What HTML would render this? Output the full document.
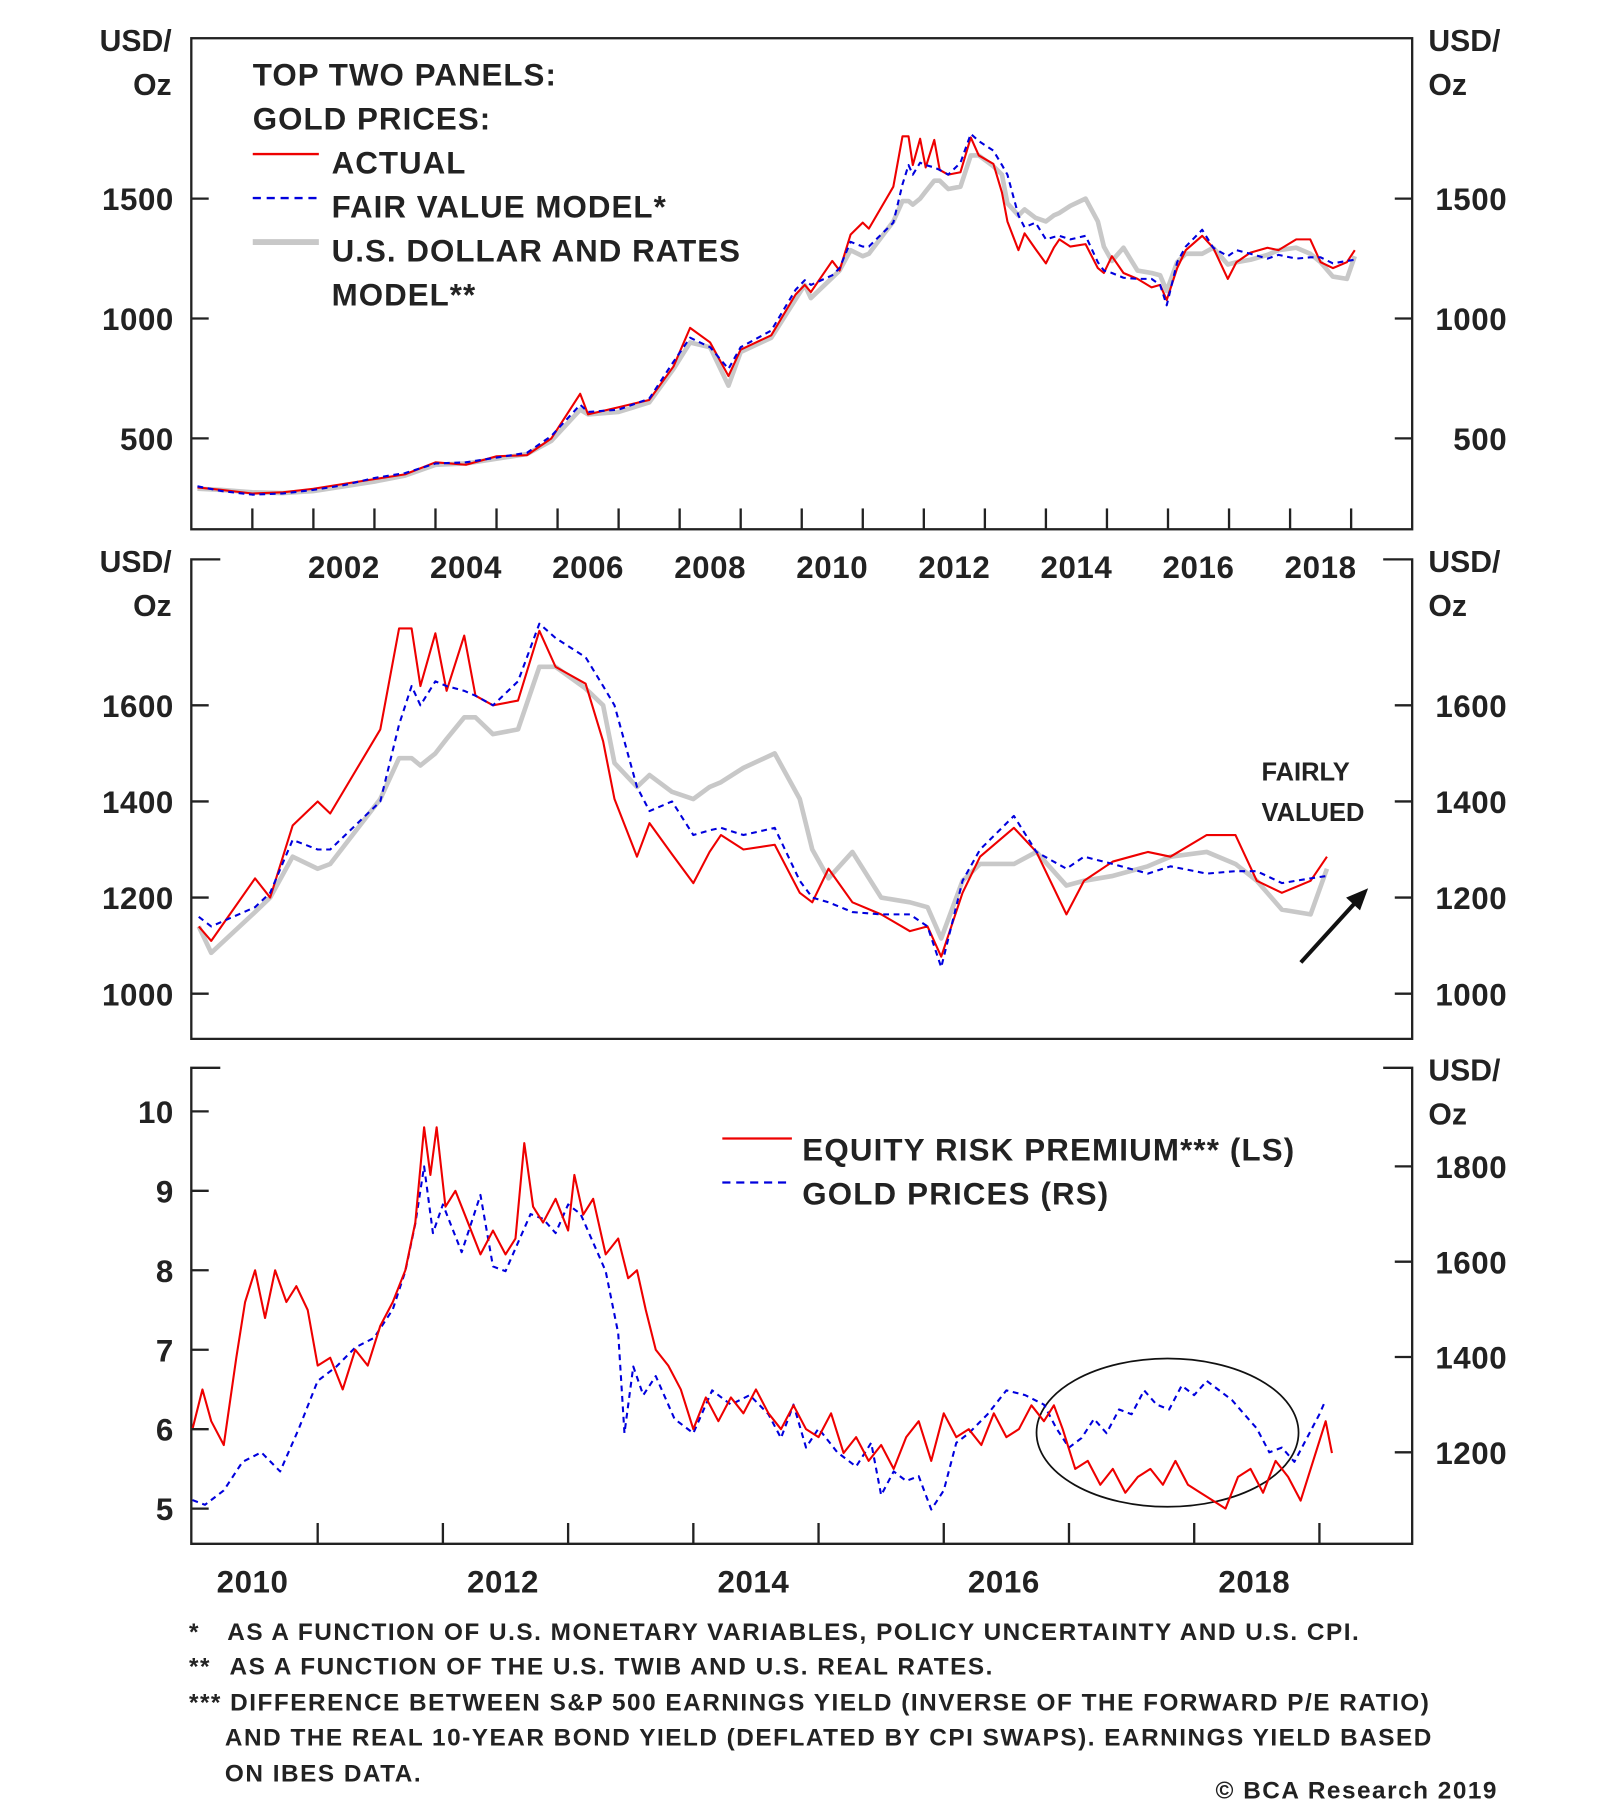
<!DOCTYPE html>
<html><head><meta charset="utf-8"><style>
html,body{margin:0;padding:0;background:#fff;}
svg{display:block;}
text{font-family:"Liberation Sans",Arial,sans-serif;font-weight:bold;fill:#222;}
.leg text{letter-spacing:0.9px;}
.leg3 text{letter-spacing:1px;}
.foot text{letter-spacing:1.3px;}
</style></head><body>
<svg id="chart" width="1600" height="1816" viewBox="0 0 1380 1568" preserveAspectRatio="none" xmlns="http://www.w3.org/2000/svg">
<g id="static">
<rect x="165" y="33" width="1053" height="424" fill="none" stroke="#222" stroke-width="2"/>
<path d="M190 483 H165 V897 H1218 V483 H1193" fill="none" stroke="#222" stroke-width="2"/>
<path d="M190 922 H165 V1333 H1218 V922 H1193" fill="none" stroke="#222" stroke-width="2"/>
<text x="148" y="44" font-size="26" text-anchor="end">USD/</text>
<text x="148" y="82" font-size="26" text-anchor="end">Oz</text>
<text x="1232" y="44" font-size="26">USD/</text>
<text x="1232" y="82" font-size="26">Oz</text>
<text x="148" y="494" font-size="26" text-anchor="end">USD/</text>
<text x="148" y="532" font-size="26" text-anchor="end">Oz</text>
<text x="1232" y="494" font-size="26">USD/</text>
<text x="1232" y="532" font-size="26">Oz</text>
<text x="1232" y="933" font-size="26">USD/</text>
<text x="1232" y="971" font-size="26">Oz</text>
<g class="leg">
<text x="218" y="74" font-size="27">TOP TWO PANELS:</text>
<text x="218" y="112" font-size="27">GOLD PRICES:</text>
<line x1="218" y1="133" x2="275" y2="133" stroke="#e00" stroke-width="2"/>
<text x="286" y="150" font-size="27">ACTUAL</text>
<line x1="218" y1="171" x2="275" y2="171" stroke="#00d" stroke-width="2" stroke-dasharray="7,5"/>
<text x="286" y="188" font-size="27">FAIR VALUE MODEL*</text>
<line x1="218" y1="209" x2="275" y2="209" stroke="#c8c8c8" stroke-width="5"/>
<text x="286" y="226" font-size="27">U.S. DOLLAR AND RATES</text>
<text x="286" y="264" font-size="27">MODEL**</text>
</g>
<text x="1088" y="674" font-size="22">FAIRLY</text>
<text x="1088" y="709" font-size="22">VALUED</text>
<line x1="1122" y1="831" x2="1172" y2="776" stroke="#111" stroke-width="3.5"/>
<polygon points="1180,767 1161,775 1173,786" fill="#111"/>
<g class="leg3">
<line x1="623" y1="983" x2="683" y2="983" stroke="#e00" stroke-width="2"/>
<text x="692" y="1002" font-size="27">EQUITY RISK PREMIUM*** (LS)</text>
<line x1="623" y1="1021" x2="683" y2="1021" stroke="#00d" stroke-width="2" stroke-dasharray="7,5"/>
<text x="692" y="1040" font-size="27">GOLD PRICES (RS)</text>
</g>
<ellipse cx="1007" cy="1237" rx="113" ry="64" fill="none" stroke="#111" stroke-width="1.5"/>
<g class="foot" font-size="21">
<text x="163" y="1416">*</text><text x="196" y="1416" font-size="21">AS A FUNCTION OF U.S. MONETARY VARIABLES, POLICY UNCERTAINTY AND U.S. CPI.</text>
<text x="163" y="1446">**</text><text x="198" y="1446" font-size="21">AS A FUNCTION OF THE U.S. TWIB AND U.S. REAL RATES.</text>
<text x="163" y="1477" font-size="21">*** DIFFERENCE BETWEEN S&amp;P 500 EARNINGS YIELD (INVERSE OF THE FORWARD P/E RATIO)</text>
<text x="194" y="1507" font-size="21">AND THE REAL 10-YEAR BOND YIELD (DEFLATED BY CPI SWAPS). EARNINGS YIELD BASED</text>
<text x="194" y="1538" font-size="21">ON IBES DATA.</text>
<text x="1292" y="1553" font-size="21" text-anchor="end">© BCA Research 2019</text>
</g>
</g>
<g id="dyn"></g>
</svg>
<script>
// Gold prices (USD/oz)
const goldYears = [2000.1,2000.5,2001,2001.5,2002,2002.5,2003,2003.5,2004,2004.5,2005,2005.5,2005.9,2006.37,2006.5,2007,2007.5,2007.9,2008.17,2008.5,2008.8,2009,2009.5,2009.9,
2010.05,2010.15,2010.5,2010.62,2010.8,2011.0,2011.1,2011.5,2011.65,2011.75,2011.82,2011.94,2012.03,2012.17,2012.26,2012.4,2012.6,2012.77,2012.9,2013.14,2013.28,2013.37,2013.55,2013.65,2013.83,2014.0,2014.13,2014.22,2014.4,2014.65,2014.85,2014.95,2015.08,2015.27,2015.5,2015.73,2015.87,2015.98,2016.15,2016.29,2016.56,2016.74,2016.98,2017.12,2017.35,2017.63,2017.81,2018.1,2018.33,2018.5,2018.7,2018.93,2019.06];
const goldActual = [295,285,270,275,290,310,330,350,400,390,425,430,500,686,600,630,660,800,961,900,760,870,930,1100,
1140,1110,1240,1200,1350,1400,1375,1550,1760,1760,1640,1750,1630,1745,1620,1600,1610,1755,1680,1645,1525,1405,1285,1355,1290,1230,1295,1330,1300,1310,1210,1190,1260,1190,1165,1130,1140,1077,1210,1285,1345,1295,1165,1235,1275,1295,1285,1330,1330,1235,1210,1235,1285];
const goldFair = [300,280,265,270,285,305,335,355,395,400,420,440,510,640,610,620,665,820,920,880,790,880,950,1120,
1160,1140,1180,1210,1320,1300,1300,1400,1560,1640,1600,1650,1640,1630,1620,1600,1650,1770,1740,1700,1640,1600,1430,1380,1400,1330,1340,1345,1330,1345,1235,1200,1190,1170,1165,1165,1140,1055,1235,1300,1370,1295,1260,1285,1270,1250,1265,1250,1255,1255,1230,1240,1245];
const goldUsd = [290,285,275,272,280,300,320,345,390,395,415,435,490,620,600,610,650,790,900,880,720,860,920,1080,
1140,1085,1170,1200,1285,1260,1270,1405,1490,1490,1475,1500,1530,1575,1575,1540,1550,1680,1680,1635,1600,1480,1430,1455,1420,1405,1430,1440,1470,1500,1405,1300,1240,1295,1200,1190,1180,1115,1235,1270,1270,1295,1225,1235,1245,1265,1285,1295,1270,1235,1175,1165,1260];
// Equity risk premium (%) and gold, panel 3
const erpYears = [2010.0,2010.08,2010.15,2010.25,2010.35,2010.42,2010.5,2010.58,2010.66,2010.75,2010.83,2010.92,2011.0,2011.1,2011.2,2011.3,2011.4,2011.5,2011.6,2011.7,2011.78,2011.85,2011.9,2011.95,2012.02,2012.1,2012.2,2012.3,2012.4,2012.5,2012.58,2012.65,2012.72,2012.8,2012.9,2013.0,2013.05,2013.12,2013.2,2013.3,2013.4,2013.48,2013.55,2013.62,2013.7,2013.8,2013.9,2014.0,2014.1,2014.2,2014.3,2014.4,2014.5,2014.6,2014.7,2014.8,2014.9,2015.0,2015.1,2015.2,2015.3,2015.4,2015.5,2015.6,2015.7,2015.8,2015.9,2016.0,2016.1,2016.2,2016.3,2016.4,2016.5,2016.6,2016.7,2016.8,2016.88,2016.95,2017.05,2017.15,2017.25,2017.35,2017.45,2017.55,2017.65,2017.75,2017.85,2017.95,2018.05,2018.15,2018.25,2018.35,2018.45,2018.55,2018.65,2018.75,2018.85,2018.95,2019.05,2019.1];
const erpValues = [6.0,6.5,6.1,5.8,6.9,7.6,8.0,7.4,8.0,7.6,7.8,7.5,6.8,6.9,6.5,7.0,6.8,7.3,7.6,8.0,8.6,9.8,9.2,9.8,8.8,9.0,8.6,8.2,8.5,8.2,8.4,9.6,8.8,8.6,8.9,8.5,9.2,8.7,8.9,8.2,8.4,7.9,8.0,7.5,7.0,6.8,6.5,6.0,6.4,6.1,6.4,6.2,6.5,6.2,6.0,6.3,6.0,5.9,6.2,5.7,5.9,5.6,5.8,5.5,5.9,6.1,5.6,6.2,5.9,6.0,5.8,6.2,5.9,6.0,6.3,6.1,6.3,6.0,5.5,5.6,5.3,5.5,5.2,5.4,5.5,5.3,5.6,5.3,5.2,5.1,5.0,5.4,5.5,5.2,5.6,5.4,5.1,5.6,6.1,5.7];
const gold3Years = [2010.0,2010.1,2010.25,2010.4,2010.55,2010.7,2010.85,2011.0,2011.15,2011.3,2011.45,2011.6,2011.7,2011.78,2011.85,2011.92,2012.0,2012.15,2012.3,2012.4,2012.5,2012.6,2012.7,2012.8,2012.9,2013.0,2013.1,2013.2,2013.3,2013.4,2013.45,2013.52,2013.6,2013.7,2013.85,2014.0,2014.15,2014.3,2014.45,2014.6,2014.7,2014.8,2014.9,2015.0,2015.15,2015.3,2015.42,2015.5,2015.6,2015.7,2015.8,2015.9,2016.0,2016.1,2016.2,2016.35,2016.5,2016.65,2016.8,2016.9,2017.0,2017.1,2017.2,2017.3,2017.4,2017.5,2017.6,2017.7,2017.8,2017.9,2018.0,2018.1,2018.2,2018.3,2018.4,2018.5,2018.6,2018.7,2018.8,2018.9,2019.0,2019.05];
const gold3Values = [1100,1090,1120,1180,1200,1160,1250,1350,1380,1420,1440,1500,1580,1680,1800,1660,1720,1620,1740,1590,1580,1640,1700,1690,1660,1720,1700,1640,1580,1450,1240,1380,1320,1360,1270,1240,1330,1300,1320,1280,1230,1300,1210,1250,1200,1170,1220,1110,1160,1140,1150,1080,1120,1220,1240,1280,1330,1320,1300,1250,1210,1230,1270,1240,1290,1280,1330,1300,1290,1340,1320,1350,1330,1310,1280,1250,1200,1210,1180,1230,1280,1310];
const p1YTicks = [500,1000,1500];
const p2YTicks = [1000,1200,1400,1600];
const p3LTicks = [5,6,7,8,9,10];
const p3RTicks = [1200,1400,1600,1800];
const p1XLabels = [2002,2004,2006,2008,2010,2012,2014,2016,2018];
const p3XLabels = [2010,2012,2014,2016,2018];

const NS='http://www.w3.org/2000/svg';
const dyn=document.getElementById('dyn');
function mk(tag,attrs){const e=document.createElementNS(NS,tag);for(const k in attrs)e.setAttribute(k,attrs[k]);dyn.appendChild(e);return e;}
const x1=y=>165+(y-2000)*52.65;
const y1=v=>482-v*0.207;
const x2=y=>166+(y-2010)*108;
const y2=v=>775-(v-1200)*0.415;
const y3L=v=>1234-(v-6)*68.6;
const y3R=v=>1254-(v-1200)*0.4115;
function line(xs,vs,fx,fy,filt,style,name){
  let d='';let first=true;
  xs.forEach((t,i)=>{if(!filt(t))return;d+=(first?'M':'L')+fx(t).toFixed(1)+' '+fy(vs[i]).toFixed(1)+' ';first=false;});
  const p=mk('path',Object.assign({d:d,fill:'none','stroke-linejoin':'round'},style));
  
  
}
const all=()=>true, post=t=>t>=2010;
const sGray={stroke:'#c8c8c8','stroke-width':4};
const sRed={stroke:'#e00','stroke-width':1.8};
const sBlue={stroke:'#00d','stroke-width':1.8,'stroke-dasharray':'5,4'};
line(goldYears,goldUsd,x1,y1,all,sGray,'p1-usd-rates-model-line');
line(goldYears,goldActual,x1,y1,all,sRed,'p1-actual-line');
line(goldYears,goldFair,x1,y1,all,sBlue,'p1-fair-value-line');
line(goldYears,goldUsd,x2,y2,post,sGray,'p2-usd-rates-model-line');
line(goldYears,goldActual,x2,y2,post,sRed,'p2-actual-line');
line(goldYears,goldFair,x2,y2,post,sBlue,'p2-fair-value-line');
line(gold3Years,gold3Values,x2,y3R,all,sBlue,'p3-gold-line');
line(erpYears,erpValues,x2,y3L,all,sRed,'p3-erp-line');
function tick(x1_,y1_,x2_,y2_){mk('line',{x1:x1_,y1:y1_,x2:x2_,y2:y2_,stroke:'#222','stroke-width':2});}
function label(x,y,s,anchor,name){const t=mk('text',{x:x,y:y,'font-size':27,'text-anchor':anchor,'letter-spacing':'0.5px'});t.textContent=s;
  
  }
p1YTicks.forEach(v=>{const y=y1(v);tick(165,y,180,y);tick(1203,y,1218,y);label(150,y+10,String(v),'end','p1-y-tick-label');label(1300,y+10,String(v),'end','p1-y-tick-label-right');});
for(let yr=2001;yr<=2019;yr++){const x=x1(yr);tick(x,457,x,439);}
p1XLabels.forEach(yr=>label(x1(yr+0.5),499,String(yr),'middle','p1-x-tick-label'));
p2YTicks.forEach(v=>{const y=y2(v);tick(165,y,180,y);tick(1203,y,1218,y);label(150,y+10,String(v),'end','p2-y-tick-label');label(1300,y+10,String(v),'end','p2-y-tick-label-right');});
p3LTicks.forEach(v=>{const y=y3L(v);tick(165,y,180,y);label(150,y+10,String(v),'end','p3-left-tick-label');});
p3RTicks.forEach(v=>{const y=y3R(v);tick(1203,y,1218,y);label(1300,y+10,String(v),'end','p3-right-tick-label');});
for(let yr=2011;yr<=2019;yr++){const x=x2(yr);tick(x,1333,x,1315);}
p3XLabels.forEach(yr=>label(x2(yr+0.48),1375,String(yr),'middle','p3-x-tick-label'));
</script>
</body></html>
